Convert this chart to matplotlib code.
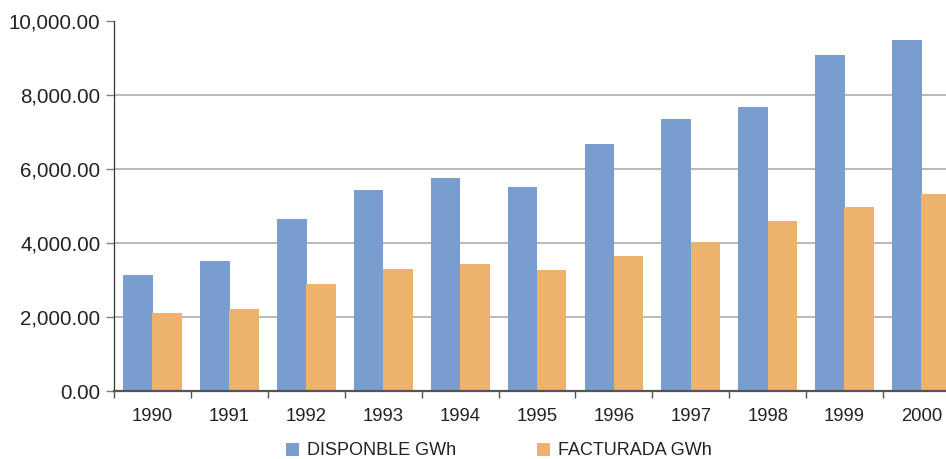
import numpy as np
import matplotlib.pyplot as plt
from matplotlib.ticker import FuncFormatter

# Datos
Anios = ['1990', '1991', '1992', '1993', '1994', '1995', '1996', '1997', '1998', '1999', '2000']
Disponible = [3140, 3515, 4650, 5430, 5755, 5510, 6670, 7345, 7665, 9070, 9475]   # GWh
Facturada = [2110, 2220, 2895, 3300, 3435, 3270, 3650, 4025, 4595, 4970, 5320]     # GWh

Azul = '#789DCE'
Naranja = '#EDB26E'

plt.rcParams['font.family'] = ['Liberation Sans', 'DejaVu Sans']

fig = plt.figure(figsize=(9.46, 4.59), dpi=100)
ax = fig.add_axes([0.1207, 0.1475, 0.894, 0.8074])

x = np.arange(len(Anios))
w = 0.385
ax.bar(x - 0.19, Disponible, w, color=Azul, label='DISPONBLE GWh', zorder=3)
ax.bar(x + 0.19, Facturada, w, color=Naranja, label='FACTURADA GWh', zorder=3)

ax.set_xlim(-0.5, len(Anios) - 0.5)
ax.set_ylim(0, 10000)

# lineas de la grilla (sin la de 10,000)
for yv in [2000, 4000, 6000, 8000]:
    ax.axhline(yv, color='#A8A4A4', lw=1.1, zorder=1)

ax.set_yticks([0, 2000, 4000, 6000, 8000, 10000])
ax.yaxis.set_major_formatter(FuncFormatter(lambda v, p: '{:,.2f}'.format(v)))
ax.tick_params(axis='y', direction='out', length=6, width=1, color='#808080',
               labelsize=14.8, pad=4, labelcolor='#222222')

# ticks en los bordes de cada categoria, etiquetas al centro
ax.set_xticks(np.arange(-0.5, len(Anios)), minor=False)
ax.set_xticklabels([])
ax.set_xticks(x, minor=True)
ax.set_xticklabels(Anios, minor=True)
ax.tick_params(axis='x', which='major', direction='out', length=5, width=1, color='#555555')
ax.tick_params(axis='x', which='minor', length=0, labelsize=13.3, pad=12, labelcolor='#222222')

for s in ['top', 'right']:
    ax.spines[s].set_visible(False)
ax.spines['left'].set_color('#333333')
ax.spines['left'].set_linewidth(0.9)
ax.spines['bottom'].set_color('#555555')
ax.spines['bottom'].set_linewidth(1.6)
ax.spines['bottom'].set_zorder(4)

fig.legend(loc='center', bbox_to_anchor=(0.5275, 0.0175), ncol=2, frameon=False,
           fontsize=13, handlelength=0.72, handleheight=0.72, handletextpad=0.45,
           columnspacing=4.5, borderpad=0, labelcolor='#222222')

fig.savefig('out.png', dpi=100)
